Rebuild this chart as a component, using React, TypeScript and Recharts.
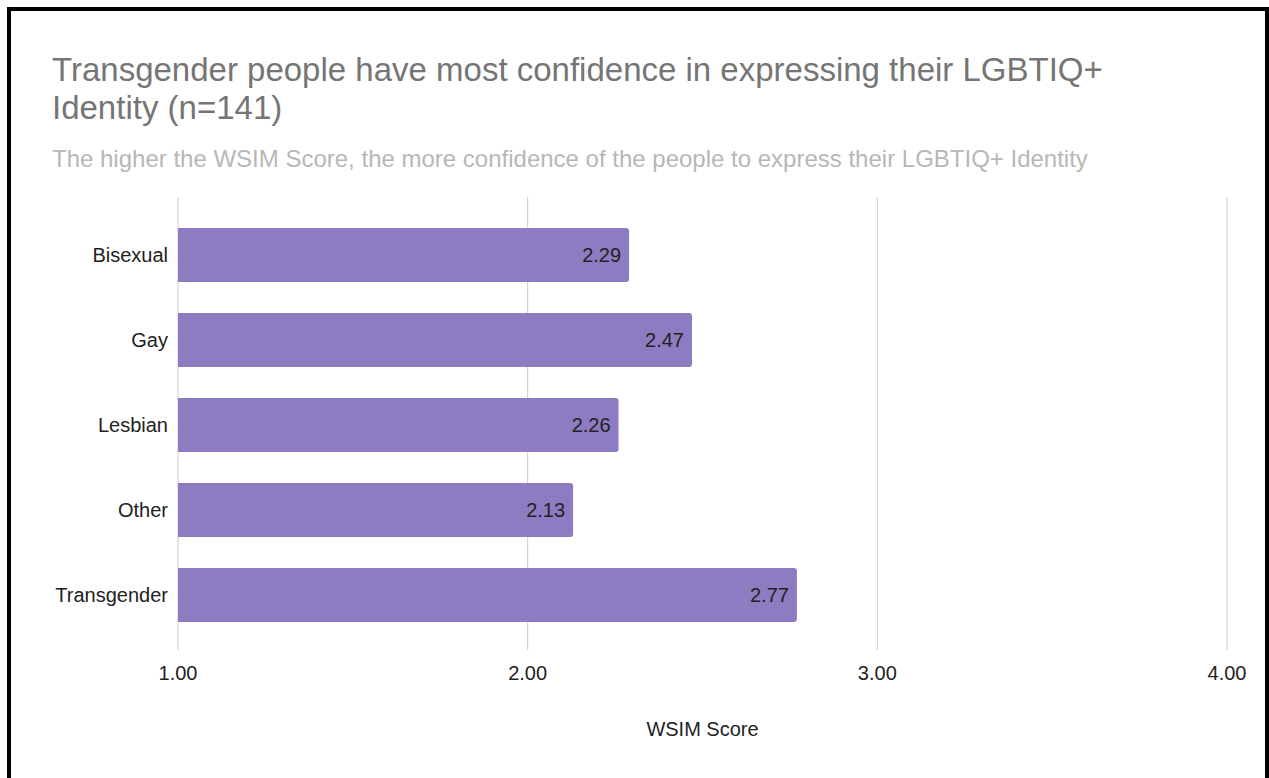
import { BarChart, Bar, XAxis, YAxis, CartesianGrid, LabelList } from "recharts";

const identities = ["Bisexual", "Gay", "Lesbian", "Other", "Transgender"];
const wsimScores = [2.29, 2.47, 2.26, 2.13, 2.77];
const xTicks = [1, 2, 3, 4];

const TITLE = "Transgender people have most confidence in expressing their LGBTIQ+ Identity (n=141)";
const SUBTITLE =
  "The higher the WSIM Score, the more confidence of the people to express their LGBTIQ+ Identity";

const FONT = "Arial, 'Liberation Sans', sans-serif";

export default function App() {
  const data = identities.map((name, i) => ({ name, score: wsimScores[i] }));

  return (
    <div style={{ position: "fixed", left: 0, top: 0, width: 1269, height: 778, background: "#fff", overflow: "hidden", fontFamily: FONT }}>
      <div
        style={{
          position: "absolute",
          left: 7,
          top: 7,
          width: 1262,
          height: 800,
          border: "4px solid #000",
          boxSizing: "border-box",
        }}
      />
      <div
        style={{
          position: "absolute",
          left: 52,
          top: 51,
          width: 1100,
          fontSize: 33,
          lineHeight: "38px",
          color: "#757575",
        }}
      >
        {TITLE}
      </div>
      <div style={{ position: "absolute", left: 52, top: 145, fontSize: 24, color: "#b7b7b7", whiteSpace: "nowrap" }}>
        {SUBTITLE}
      </div>
      <div style={{ position: "absolute", left: 0, top: 0 }}>
        <BarChart
          width={1269}
          height={778}
          data={data}
          layout="vertical"
          margin={{ top: 197, right: 42, bottom: 28, left: 0 }}
        >
          <CartesianGrid horizontal={false} stroke="#cccccc" />
          <XAxis
            type="number"
            dataKey="score"
            domain={[1, 4]}
            ticks={xTicks}
            allowDataOverflow
            tickFormatter={(v: number) => v.toFixed(2)}
            axisLine={false}
            tickLine={false}
            tickMargin={10}
            height={100}
            tick={{ fill: "#222", fontSize: 20, fontFamily: FONT }}
            label={{ value: "WSIM Score", position: "insideBottom", offset: 14, fill: "#222", fontSize: 20, fontFamily: FONT }}
          />
          <YAxis
            type="category"
            dataKey="name"
            width={178}
            axisLine={false}
            tickLine={false}
            tickMargin={4}
            padding={{ top: 15, bottom: 13 }}
            tick={{ fill: "#222", fontSize: 20, fontFamily: FONT }}
          />
          <Bar dataKey="score" fill="#8e7cc3" barSize={54} radius={[0, 3, 3, 0]} isAnimationActive={false}>
            <LabelList
              dataKey="score"
              position="insideRight"
              offset={8}
              fill="#222"
              fontSize={20}
              fontFamily={FONT}
              formatter={(v: number) => v.toFixed(2)}
            />
          </Bar>
        </BarChart>
      </div>
    </div>
  );
}
